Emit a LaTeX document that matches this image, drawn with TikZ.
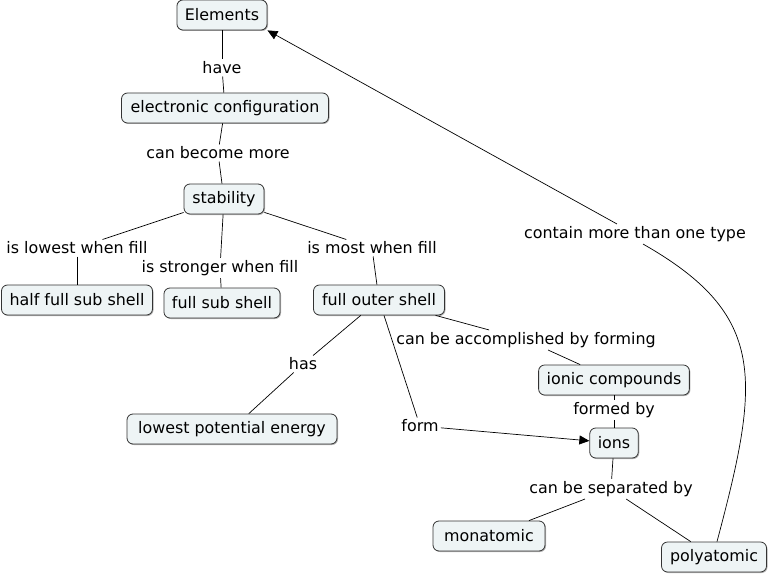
\documentclass[tikz,border=0pt]{standalone}
\usepackage{fontspec}
\setmainfont{DejaVu Sans}
\usetikzlibrary{arrows.meta, shadows}
\definecolor{conceptfill}{HTML}{EEF4F5}

\tikzset{
  concept/.style={draw=black!80, fill=conceptfill, rounded corners=6pt, line width=0.8pt,
    minimum height=30pt, inner xsep=8pt, inner ysep=0pt,
    drop shadow={shadow xshift=1pt, shadow yshift=-1pt, fill=black!50, opacity=0.6}},
  link/.style={inner sep=2pt},
  arr/.style={-{Triangle[length=10pt,width=9pt]}}
}

\begin{document}
\begin{tikzpicture}[x=1pt, y=-1pt, line width=0.7pt, font=\fontsize{15.9pt}{18pt}\selectfont]
  \useasboundingbox (0,0) rectangle (768,575);

  % Draw the concepts
  \node[concept, minimum width=89pt] (Elements) at (222,15) {Elements};
  \node[concept, minimum width=207pt] (Config) at (225,108) {electronic configuration};
  \node[concept, minimum width=80pt] (Stability) at (224,199) {stability};
  \node[concept, minimum width=151pt] (HalfSub) at (77,300) {half full sub shell};
  \node[concept, minimum width=116pt] (FullSub) at (222,303) {full sub shell\hspace{6pt}};
  \node[concept, minimum width=131pt] (FullOuter) at (379,300) {full outer shell};
  \node[concept, minimum width=210pt] (Lowest) at (232,429) {lowest potential energy\hspace{10pt}};
  \node[concept, minimum width=150pt] (Ionic) at (614,380) {ionic compounds};
  \node[concept, minimum width=48pt] (Ions) at (614,443) {ions};
  \node[concept, minimum width=112pt] (Mono) at (489,536) {monatomic\hspace{8pt}};
  \node[concept, minimum width=105pt] (Poly) at (714,557) {polyatomic};

  % Draw the linking phrases
  \node[link] (Have) at (222,68) {have};
  \node[link] (Become) at (218,153) {can become more};
  \node[link] (LowestFill) at (77,248) {is lowest when fill};
  \node[link] (StrongerFill) at (220,268) {is stronger when fill};
  \node[link] (MostFill) at (372,248) {is most when fill};
  \node[link] (Accomplished) at (526,340) {can be accomplished by forming};
  \node[link] (Has) at (303,364) {has};
  \node[link] (Form) at (420,426) {form};
  \node[link] (FormedBy) at (614,410) {formed by};
  \node[link] (Separated) at (611,489) {can be separated by};
  \node[link] (Contain) at (635,234) {contain more than one type};

  % Draw the connections
  \draw (Elements) -- (Have);
  \draw (Have) -- (Config);
  \draw (Config) -- (Become);
  \draw (Become) -- (Stability);
  \draw (Stability) -- (LowestFill);
  \draw (LowestFill) -- (HalfSub);
  \draw (Stability) -- (StrongerFill);
  \draw (StrongerFill) -- (FullSub);
  \draw (Stability) -- (MostFill);
  \draw (MostFill) -- (FullOuter);
  \draw (FullOuter) -- (Has);
  \draw (Has) -- (Lowest);
  \draw (FullOuter) -- (Accomplished);
  \draw (Accomplished) -- (Ionic);
  \draw (FullOuter) -- (Form);
  \draw[arr] (Form) -- (Ions);
  \draw (Ionic) -- (FormedBy);
  \draw (FormedBy) -- (Ions);
  \draw (Ions) -- (Separated);
  \draw (Separated) -- (Mono);
  \draw (Separated) -- (Poly);

  % Draw the long curve back to the top
  \draw ([xshift=3pt]Poly.north) .. controls (760,380) and (768,315) .. ([xshift=8pt]Contain.south);
  \draw[arr] (Contain) -- (Elements.south east);
\end{tikzpicture}
\end{document}
